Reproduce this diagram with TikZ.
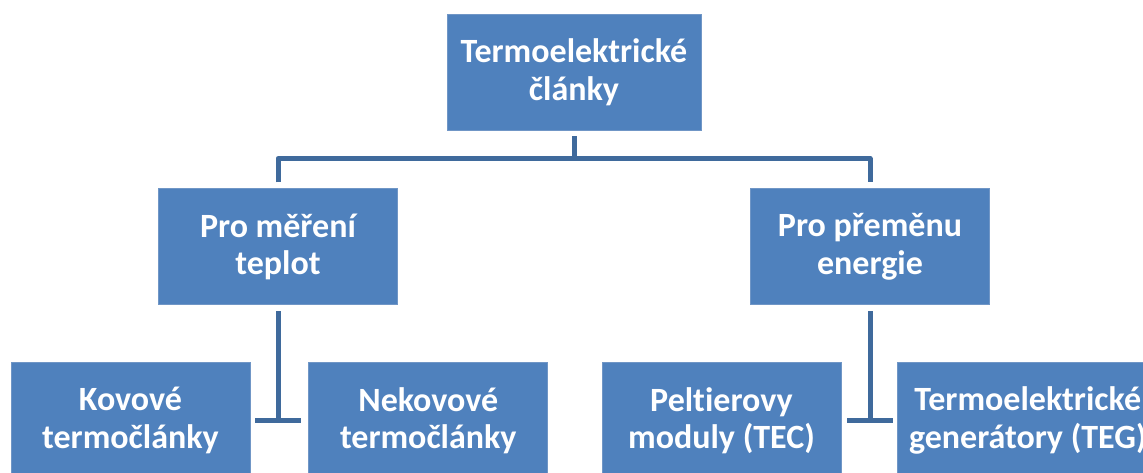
\documentclass[tikz,border=0pt]{standalone}
\usepackage{fontspec}
\setmainfont{Carlito}[Ligatures=NoCommon]
\usetikzlibrary{positioning}
\definecolor{boxblue}{HTML}{4F81BD}
\definecolor{edgeblue}{HTML}{7096C6}
\definecolor{linkblue}{HTML}{3F6A9C}

\begin{document}
\begin{tikzpicture}[
  x=1pt,y=1pt,
  font=\bfseries\fontsize{34}{37.5}\selectfont,
  box/.style={draw=edgeblue,line width=0.8pt,fill=boxblue,text=white,
              minimum width=239pt,minimum height=116pt,align=center,
              inner sep=0pt},
  link/.style={draw=linkblue,line width=5pt}
]
\useasboundingbox (0,0) rectangle (1143,-473);
\clip (0,0) rectangle (1143,-473);
\node[box,minimum width=254pt] (top) at (574,-72)
  {Termoelektrické\\články};
\node[box,below=58pt of top,xshift=-296pt] (measure)
  {Pro měření\\teplot};
\node[box,below=58pt of top,xshift=296pt] (convert)
  {Pro přeměnu\\energie};
\node[box,below=57pt of measure,xshift=-147.5pt] (metal)
  {Kovové\\termočlánky};
\node[box,right=58pt of metal] (nonmetal)
  {Nekovové\\termočlánky};
\node[box,below=57pt of convert,xshift=-148.5pt] (tec)
  {Peltierovy\\moduly (TEC)};
\node[box,right=56pt of tec,minimum width=260pt] (teg)
  {Termoelektrické\\generátory (TEG)};

% top level
\coordinate (split) at ([yshift=-28pt]top.south);
\draw[link] ([yshift=-6pt]top.south) -- (split);
\draw[link,line join=round] ([yshift=6pt]measure.north) |- (split -| convert)
  -- ([yshift=6pt]convert.north);
% second level
\coordinate (lfoot) at (measure |- metal);
\coordinate (rfoot) at (convert |- tec);
\draw[link] ([yshift=-6pt]measure.south) -- (lfoot);
\draw[link] ([xshift=-23pt]lfoot) -- ([xshift=23pt]lfoot);
\draw[link] ([yshift=-6pt]convert.south) -- (rfoot);
\draw[link] ([xshift=-23pt]rfoot) -- ([xshift=23pt]rfoot);
\end{tikzpicture}
\end{document}
